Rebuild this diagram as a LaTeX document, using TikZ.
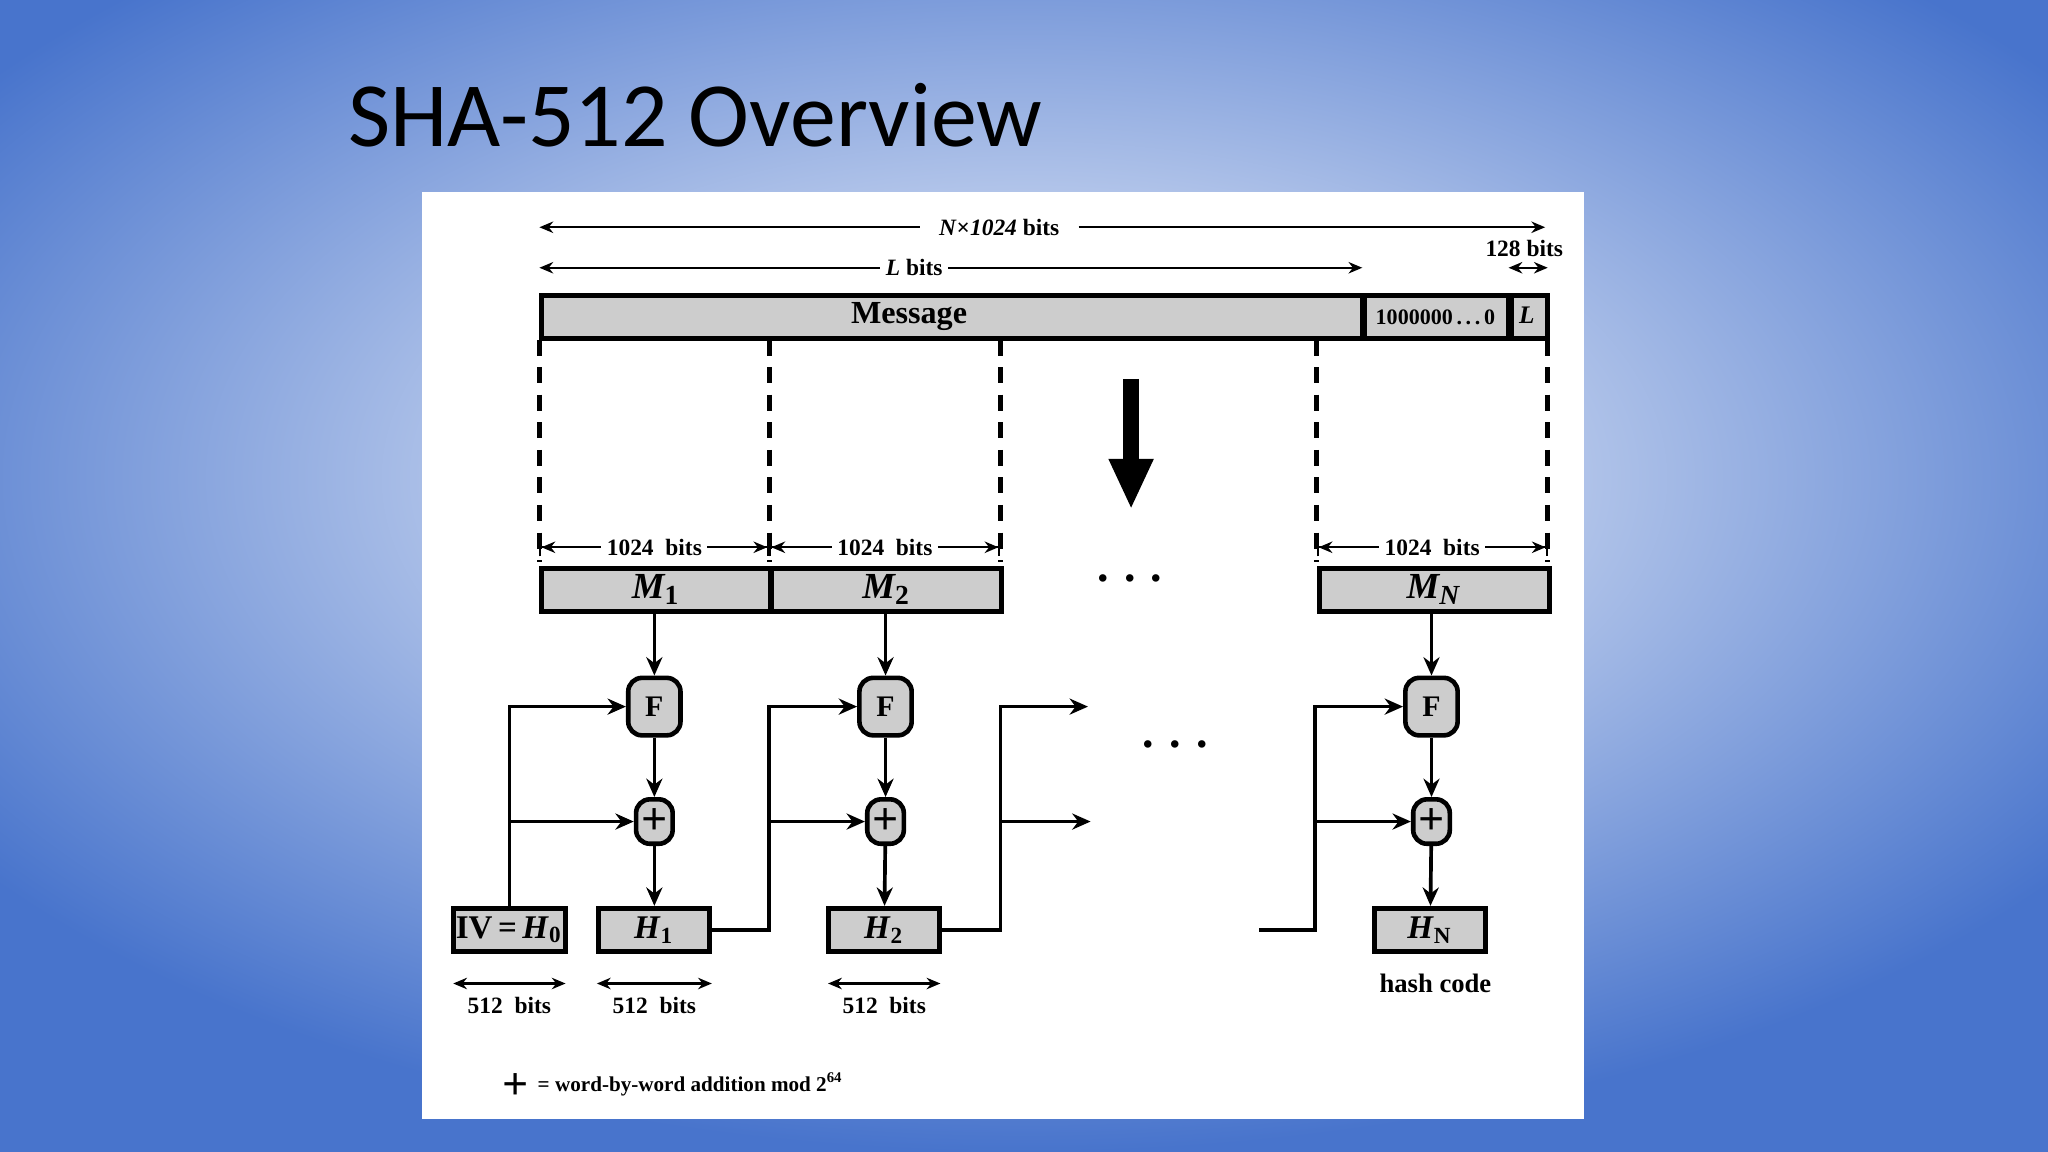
\documentclass[tikz,border=0pt]{standalone}
\usepackage{fontspec}
\setmainfont{Liberation Serif}
\newfontfamily\titlefont{Carlito}
\usetikzlibrary{arrows.meta}
\definecolor{bgblue}{RGB}{72,116,204}
\definecolor{boxgray}{RGB}{205,205,205}
\begin{document}
\begin{tikzpicture}[x=0.01cm,y=-0.01cm,
  bar/.style={draw=black,line width=1.1pt,fill=boxgray,inner sep=0pt},
  dimb/.style={line width=0.45pt,{Stealth[length=3pt,width=2.5pt]}-{Stealth[length=3pt,width=2.5pt]}},
  lbl/.style={font=\bfseries\fontsize{5.1}{6}\selectfont,inner sep=1pt},
  flow/.style={line width=0.8pt,-{Stealth[length=4pt,width=3.5pt]}},
  fbox/.style={draw,line width=1pt,fill=boxgray,rounded corners=3pt,minimum width=0.4cm,minimum height=0.44cm,inner sep=0pt,font=\bfseries\fontsize{6.5}{8}\selectfont},
  pbox/.style={draw,line width=1pt,fill=boxgray,rounded corners=3pt,minimum width=0.28cm,minimum height=0.34cm,inner sep=0pt,font=\bfseries\fontsize{10}{10}\selectfont},
  hbox/.style={draw,line width=1.1pt,fill=boxgray,minimum height=0.33cm,inner sep=0pt,font=\bfseries\fontsize{7.2}{8}\selectfont}]
\useasboundingbox (0,0) rectangle (1568,882);
\shade[inner color=white,outer color=bgblue] (-200,-150) rectangle (1768,882);
\node[anchor=base west,inner sep=0pt,font=\titlefont\fontsize{20}{24}\selectfont] (title) at (266,112) {SHA-512 Overview};
\fill[white] (323,147) rectangle (1213,857);
% top dimension arrows
\coordinate (nl) at (413,174); \coordinate (nr) at (1183,174);
\node[lbl,fill=white,inner xsep=4pt] (nlab) at (765,174) {\textit{N}×\textit{1024} bits};
\draw[line width=0.45pt,{Stealth[length=3pt,width=2.5pt]}-] (nl) -- (nlab.west);
\draw[line width=0.45pt,-{Stealth[length=3pt,width=2.5pt]}] (nlab.east) -- (nr);
\coordinate (ll) at (413,205); \coordinate (lr) at (1043,205);
\node[lbl,fill=white] (llab) at (700,205) {\textit{L} bits};
\draw[line width=0.45pt,{Stealth[length=3pt,width=2.5pt]}-] (ll) -- (llab.west);
\draw[line width=0.45pt,-{Stealth[length=3pt,width=2.5pt]}] (llab.east) -- (lr);
\node[lbl] (l128) at (1167,190) {128 bits};
\coordinate (al) at (1155,205); \coordinate (ar) at (1185,205);
\draw[dimb] (al) -- (ar);
% message bar
\node[bar,minimum width=6.28cm,minimum height=0.33cm,anchor=north west] (msg) at (413,224) {};
\node[bar,minimum width=1.1cm,minimum height=0.33cm,anchor=north west] (pad) at (1043,224) {};
\node[bar,minimum width=0.28cm,minimum height=0.33cm,anchor=north west] (lf) at (1155,224) {};
\node[font=\bfseries\fontsize{7}{8}\selectfont] (msgt) at (696,242) {Message};
\node[font=\bfseries\fontsize{4.8}{6}\selectfont] (padt) at (1099,243) {1000000\,.\,.\,.\,0};
\node[font=\bfseries\itshape\fontsize{5.5}{7}\selectfont] (lft) at (1169,241) {L};
% dashed splits
\foreach \x in {413,589,766,1008,1185}{
  \draw[line width=1pt,dash pattern=on 3.5pt off 2.5pt] (\x,260) -- (\x,430);}
% big arrow
\coordinate (ba) at (866,290); \coordinate (bb) at (866,390);
\draw[line width=3.5pt,-{Triangle[length=11pt,width=9pt]}] (ba) -- (bb);
% 1024 bits
\foreach \a/\b/\n in {413/589/d1,589/766/d2,1008/1185/d3}{
  \node[lbl,fill=white] (\n) at ({(\a+\b)/2},419) {1024\ \ bits};
  \draw[line width=0.45pt,{Bar[width=4pt]Stealth[length=3pt,width=2.5pt]}-] (\a,419) -- (\n.west);
  \draw[line width=0.45pt,-{Stealth[length=3pt,width=2.5pt]Bar[width=4pt]}] (\n.east) -- (\b,419);}
% M blocks
\tikzset{mfont/.style={font=\bfseries\itshape\fontsize{8}{9}\selectfont}}
\node[bar,minimum width=1.75cm,minimum height=0.33cm,anchor=north west,mfont] (m1) at (413,433) {M\textsubscript{\upshape 1}};
\node[bar,minimum width=1.76cm,minimum height=0.33cm,anchor=north west,mfont] (m2) at (589,433) {M\textsubscript{\upshape 2}};
\node[bar,minimum width=1.76cm,minimum height=0.33cm,anchor=north west,mfont] (mn) at (1008,433) {M\textsubscript{N}};
\node[font=\bfseries\fontsize{10}{10}\selectfont] (dots1) at (865,443) {.\,\,.\,\,.};
% F and plus
\node[fbox] (f1) at (501,541) {F};
\node[fbox] (f2) at (678,541) {F};
\node[fbox] (fn) at (1096,541) {F};
\node[pbox] (p1) at (501,629) {+};
\node[pbox] (p2) at (678,629) {+};
\node[pbox] (pn) at (1096,629) {+};
\node[font=\bfseries\fontsize{10}{10}\selectfont] (dots2) at (900,570) {.\,\,.\,\,.};
% H boxes
\node[hbox,minimum width=0.86cm] (h0) at (390,712) {IV\,=\,\textit{H}\textsubscript{0}};
\node[hbox,minimum width=0.85cm] (h1) at (501,712) {\textit{H}\textsubscript{1}};
\node[hbox,minimum width=0.85cm] (h2) at (677,712) {\textit{H}\textsubscript{2}};
\node[hbox,minimum width=0.85cm] (hn) at (1095,712) {\textit{H}\textsubscript{N}};
% vertical flows
\draw[flow] (m1.south -| f1) -- (f1);
\draw[flow] (m2.south -| f2) -- (f2);
\draw[flow] (mn.south -| fn) -- (fn);
\draw[flow] (f1) -- (p1); \draw[flow] (p1) -- (h1);
\draw[flow] (f2) -- (p2); \draw[flow] (p2) -- (h2);
\draw[flow] (fn) -- (pn); \draw[flow] (pn) -- (hn);
% chaining
\draw[flow] (h0.north) -- (390,541) -- (f1.west);
\draw[flow] (390,629) -- (p1.west);
\draw[flow] (h1.east) -- (589,712) -- (589,541) -- (f2.west);
\draw[flow] (589,629) -- (p2.west);
\coordinate (o1) at (833,541); \coordinate (o2) at (835,629);
\draw[flow] (h2.east) -- (766,712) -- (766,541) -- (o1);
\draw[flow] (766,629) -- (o2);
\coordinate (in) at (964,712);
\draw[flow] (in) -- (1007,712) -- (1007,541) -- (fn.west);
\draw[flow] (1007,629) -- (pn.west);
% 512 bits
\foreach \a/\b/\n in {347/433/b0,457/545/b1,634/720/b2}{
  \draw[dimb] (\a,753) -- (\b,753);
  \node[lbl] (\n) at ({(\a+\b)/2},770) {512\ \ bits};}
\node[font=\bfseries\fontsize{5.8}{7}\selectfont] (hc) at (1099,753) {hash code};
% legend
\node[font=\bfseries\fontsize{10}{10}\selectfont,inner sep=0pt] (lp) at (395,832) {+};
\node[anchor=west,font=\bfseries\fontsize{4.6}{6}\selectfont,inner sep=0pt] (lt) at (411,830) {= word-by-word addition mod 2\textsuperscript{64}};
\end{tikzpicture}
\end{document}
